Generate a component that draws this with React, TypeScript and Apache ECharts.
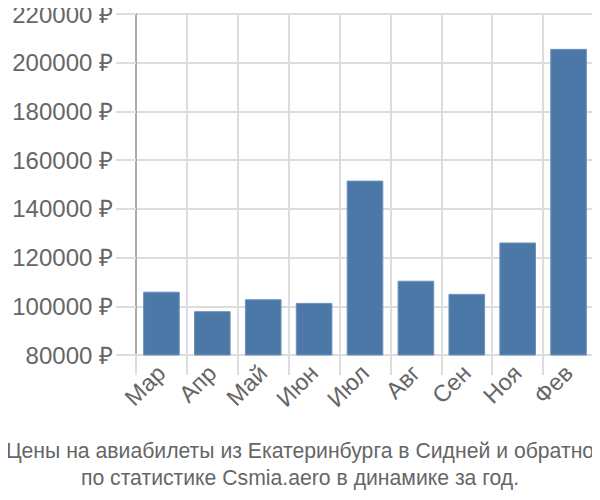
import React, { useEffect, useRef } from "react";
import * as echarts from "echarts";

const categories = ["Мар", "Апр", "Май", "Июн", "Июл", "Авг", "Сен", "Ноя", "Фев"];
const prices = [106000, 98000, 102900, 101400, 151600, 110500, 105100, 126200, 205700];
const yTicks = { min: 80000, max: 220000, interval: 20000 };
const titleLines = [
  "Цены на авиабилеты из Екатеринбурга в Сидней и обратно",
  "по статистике Csmia.aero в динамике за год.",
];

export default function App() {
  const ref = useRef<HTMLDivElement>(null);
  useEffect(() => {
    if (!ref.current) return;
    const chart = echarts.init(ref.current, null, { renderer: "svg" });
    chart.setOption({
      animation: false,
      graphic: titleLines.map((line, i) => ({
        type: "text",
        x: 300,
        y: 450 + i * 27,
        style: {
          text: line,
          textAlign: "center",
          textVerticalAlign: "middle",
          fontFamily: "Liberation Sans",
          fontSize: 21.2,
          fill: "#666",
        },
      })),
      grid: { left: 136, right: 6, top: 14, bottom: 145 },
      xAxis: {
        type: "category",
        data: categories,
        boundaryGap: true,
        axisLine: { show: true, lineStyle: { color: "#ddd", width: 2 } },
        axisTick: { show: true, length: 20, lineStyle: { color: "#ddd", width: 2 } },
        splitLine: { show: true, interval: 0, lineStyle: { color: "#ddd", width: 2 } },
        axisLabel: {
          rotate: 45,
          interval: 0,
          margin: 14,
          fontFamily: "Liberation Sans",
          fontSize: 23.5,
          color: "#666",
        },
      },
      yAxis: {
        type: "value",
        min: yTicks.min,
        max: yTicks.max,
        interval: yTicks.interval,
        axisLine: { show: true, lineStyle: { color: "#aaa", width: 2 } },
        axisTick: { show: true, length: 20, lineStyle: { color: "#ddd", width: 2 } },
        splitLine: { show: true, lineStyle: { color: "#ddd", width: 2 } },
        axisLabel: {
          margin: 23,
          fontFamily: "Liberation Sans",
          fontSize: 24,
          color: "#666",
          formatter: (v: number) => `${v} ₽`,
        },
      },
      series: [
        {
          type: "bar",
          data: prices,
          barCategoryGap: "28%",
          itemStyle: { color: "#4c78a8", borderColor: "#6f92bb", borderWidth: 1 },
        },
      ],
    });
    return () => chart.dispose();
  }, []);
  return <div ref={ref} style={{ width: 600, height: 500, margin: -8 }} />;
}
